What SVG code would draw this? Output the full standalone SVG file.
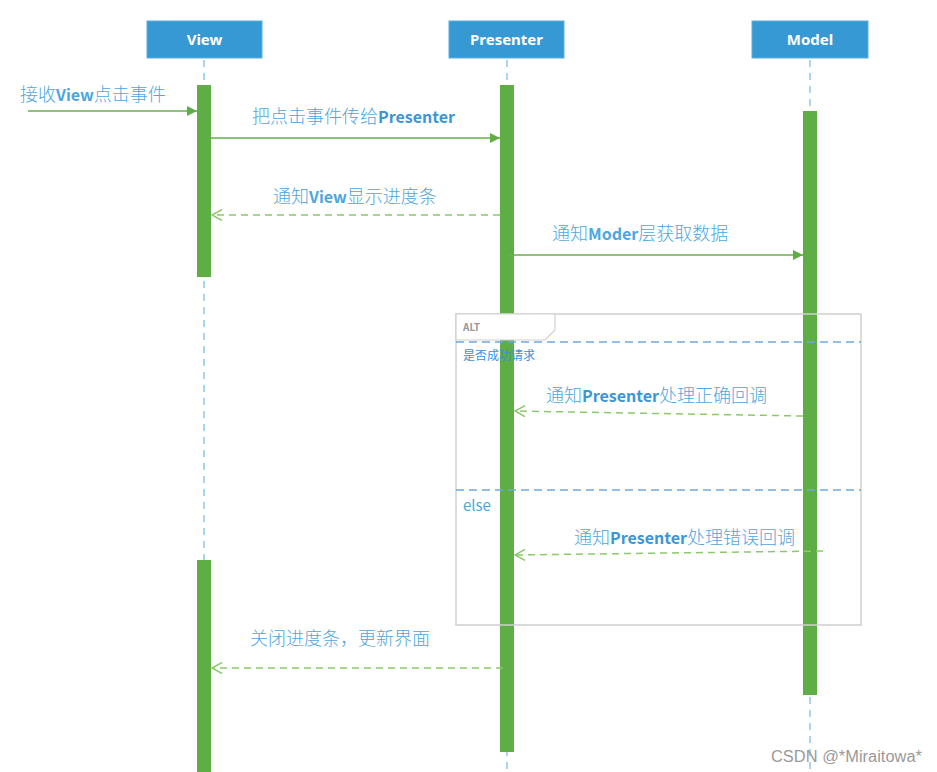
<svg xmlns="http://www.w3.org/2000/svg" width="937" height="772" viewBox="0 0 937 772">
<defs>
<style>
.hdr{fill:#3799d3;stroke:#5aaee0;stroke-width:1}
.hdrt{font-family:"Noto Sans","Noto Sans CJK SC",sans-serif;font-weight:bold;font-size:15px;fill:#ffffff;text-anchor:middle}
.life{stroke:#8cc8ec;stroke-width:1.5;stroke-dasharray:7,6;fill:none}
.act{fill:#5fad45}
.msg{stroke:#66b04a;stroke-width:1.5;fill:none}
.ret{stroke:#8cc86c;stroke-width:1.5;fill:none;stroke-dasharray:7,5}
.lbl{font-family:"Noto Sans CJK SC","Noto Sans",sans-serif;font-size:18px;fill:#4ea6df;font-weight:300}
.b{font-weight:bold;fill:#3d95d3;font-size:16px}
.m{font-weight:600;font-size:16px}
.frame{fill:none;stroke:#cfcfcf;stroke-width:1.5}
.div{stroke:#6fa8e0;stroke-width:1.5;stroke-dasharray:8,5}
.small{font-family:"Noto Sans CJK SC","Noto Sans",sans-serif;font-size:10px}
</style>
<marker id="fill" viewBox="0 0 10 10" refX="10" refY="5" markerWidth="10" markerHeight="10" markerUnits="userSpaceOnUse" orient="auto">
<path d="M0,0 L10,5 L0,10 z" fill="#5fad45"/>
</marker>
<marker id="open" viewBox="0 0 12 12" refX="11" refY="6" markerWidth="12" markerHeight="12" markerUnits="userSpaceOnUse" orient="auto">
<path d="M1,0.5 L11,6 L1,11.5" fill="none" stroke="#8cc86c" stroke-width="1.5"/>
</marker>
</defs>
<rect width="937" height="772" fill="#ffffff"/>

<g id="lifelines">
<line class="life" x1="204" y1="60" x2="204" y2="772"/>
<line class="life" x1="507" y1="60" x2="507" y2="772"/>
<line class="life" x1="810" y1="60" x2="810" y2="772"/>
</g>

<g id="node-view">
<rect class="hdr" x="147" y="21" width="115" height="37"/>
<text class="hdrt" x="204.5" y="44.5">View</text>
<rect class="act" x="197" y="85" width="14" height="192"/>
<rect class="act" x="197" y="560" width="14" height="212"/>
</g>
<g id="node-presenter">
<rect class="hdr" x="449" y="21" width="115" height="37"/>
<text class="hdrt" x="506.5" y="44.5">Presenter</text>
<rect class="act" x="500" y="85" width="14" height="667"/>
</g>
<g id="node-model">
<rect class="hdr" x="752" y="21" width="116" height="37"/>
<text class="hdrt" x="810" y="44.5">Model</text>
<rect class="act" x="803" y="111" width="14" height="584"/>
</g>

<g id="alt-frame">
<rect class="frame" x="456" y="314" width="405" height="311"/>
<path d="M456,314 L555,314 L555,330 L545,340 L456,340 z" fill="#ffffff" stroke="#cfcfcf" stroke-width="1.2"/>
<line class="div" x1="456" y1="342" x2="861" y2="342"/>
<line class="div" x1="456" y1="490" x2="861" y2="490"/>
<text class="small" x="463" y="331" fill="#999999" font-weight="bold">ALT</text>
<text class="small" x="463" y="360" fill="#3d8fd6" style="font-size:12px">是否成功请求</text>
<text class="lbl" x="463" y="511" fill="#3d8fd6" style="font-size:15px;font-weight:400">else</text>
</g>

<g id="connectors">
<line class="msg" x1="28" y1="111" x2="197" y2="111" marker-end="url(#fill)"/>
<line class="msg" x1="211" y1="138" x2="500" y2="138" marker-end="url(#fill)"/>
<line class="ret" x1="500" y1="215" x2="212" y2="215" marker-end="url(#open)"/>
<line class="msg" x1="507" y1="255" x2="803" y2="255" marker-end="url(#fill)"/>
<line class="ret" x1="803" y1="416" x2="515" y2="411" marker-end="url(#open)"/>
<line class="ret" x1="823" y1="551" x2="515" y2="555" marker-end="url(#open)"/>
<line class="ret" x1="503" y1="668" x2="212" y2="668" marker-end="url(#open)"/>
</g>

<g id="labels">
<text class="lbl" x="20" y="101">接收<tspan class="m">View</tspan>点击事件</text>
<text class="lbl" x="252" y="123">把点击事件传给<tspan class="b">Presenter</tspan></text>
<text class="lbl" x="273" y="203">通知<tspan class="m">View</tspan>显示进度条</text>
<text class="lbl" x="552" y="240">通知<tspan class="m">Moder</tspan>层获取数据</text>
<text class="lbl" x="546" y="402">通知<tspan class="b">Presenter</tspan>处理正确回调</text>
<text class="lbl" x="574" y="544">通知<tspan class="b">Presenter</tspan>处理错误回调</text>
<text class="lbl" x="250" y="645">关闭进度条，更新界面</text>
</g>

<text x="771" y="762" font-family="Liberation Sans, sans-serif" font-size="16" fill="#9a9a9a" textLength="151" lengthAdjust="spacingAndGlyphs">CSDN @*Miraitowa*</text>
</svg>
